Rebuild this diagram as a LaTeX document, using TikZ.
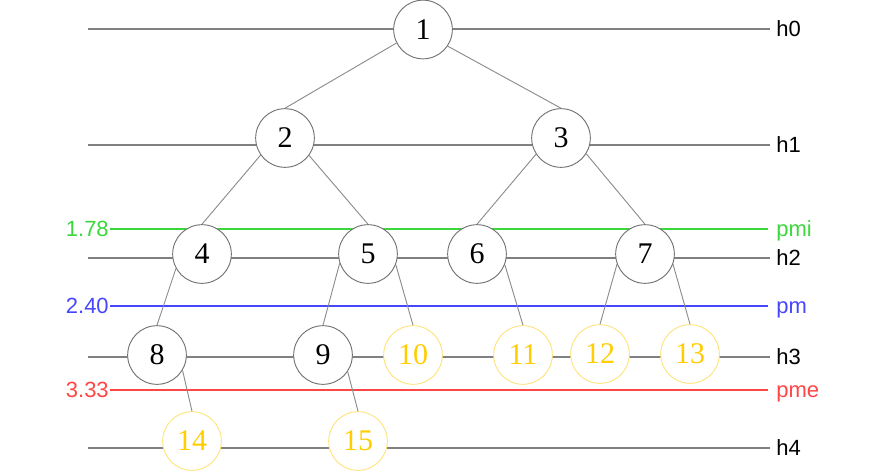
\documentclass[tikz,border=0pt]{standalone}
\usepackage{fontspec}
\usepackage{tikz}
\usetikzlibrary{positioning, calc}
\setmainfont{Liberation Serif}
\newfontfamily\lblfont{Liberation Sans}

\definecolor{lgray}{RGB}{128,128,128}
\definecolor{egray}{RGB}{140,140,140}
\definecolor{vgray}{RGB}{115,115,115}
\definecolor{leafring}{RGB}{255,228,125}
\definecolor{leafnum}{RGB}{255,205,0}
\definecolor{pgreen}{RGB}{60,215,60}
\definecolor{pblue}{RGB}{70,70,255}
\definecolor{pred}{RGB}{255,70,70}

\tikzset{
    vtx/.style={circle, draw=vgray, fill=white, line width=0.7pt,
        minimum size=44pt, inner sep=0pt,
        font=\fontsize{22.5}{25}\selectfont},
    leaf/.style={vtx, draw=leafring, text=leafnum},
    hline/.style={draw=lgray, line width=1.1pt},
    eline/.style={draw=egray, line width=0.7pt},
    pline/.style={line width=0.9pt},
    lbl/.style={inner sep=0pt, font=\lblfont\fontsize{16.5}{19}\selectfont}
}

\begin{document}
\begin{tikzpicture}[x=0.75pt, y=-0.75pt]
    \useasboundingbox (0, 0) rectangle (880, 475);

    % height lines
    \foreach \y/\t in {29/h0, 145/h1, 258/h2, 357/h3, 448/h4} {
        \coordinate (a\t) at (88, \y);
        \coordinate (b\t) at (770, \y);
        \draw[hline] (a\t) -- (b\t);
        \node[lbl, anchor=base west] (\t) at ($(b\t) + (6, 7.5)$) {\t};
    }

    % threshold lines
    \coordinate (apmi) at (110, 229);
    \coordinate (bpmi) at (768, 229);
    \coordinate (apm) at (110, 306);
    \coordinate (bpm) at (768, 306);
    \coordinate (apme) at (110, 390);
    \coordinate (bpme) at (768, 390);

    \draw[pline, draw=pgreen] (apmi) -- (bpmi);
    \draw[pline, draw=pblue] (apm) -- (bpm);
    \draw[pline, draw=pred] (apme) -- (bpme);

    \node[lbl, text=pgreen, anchor=base east] (vmi) at ($(apmi) + (-1, 7.5)$) {1.78};
    \node[lbl, text=pblue, anchor=base east] (vm) at ($(apm) + (-1, 7.5)$) {2.40};
    \node[lbl, text=pred, anchor=base east] (vme) at ($(apme) + (-1, 7.5)$) {3.33};
    \node[lbl, text=pgreen, anchor=base west] (pmi) at ($(bpmi) + (8, 7.5)$) {pmi};
    \node[lbl, text=pblue, anchor=base west] (pm) at ($(bpm) + (8, 7.5)$) {pm};
    \node[lbl, text=pred, anchor=base west] (pme) at ($(bpme) + (8, 7.5)$) {pme};

    % tree
    \node[vtx] (n1) at (423, 29.5) {1};
    \node[vtx] (n2) at (285, 138) {2};
    \node[vtx] (n3) at (561, 138) {3};
    \node[vtx] (n4) at (202, 254) {4};
    \node[vtx] (n5) at (368, 254) {5};
    \node[vtx] (n6) at (477, 254) {6};
    \node[vtx] (n7) at (645, 254) {7};
    \node[vtx] (n8) at (157, 355) {8};
    \node[vtx] (n9) at (323, 355) {9};
    \node[leaf] (n10) at (413, 355) {10};
    \node[leaf] (n11) at (523, 355) {11};
    \node[leaf] (n12) at (600, 354) {12};
    \node[leaf] (n13) at (690, 354) {13};
    \node[leaf] (n14) at (192, 441) {14};
    \node[leaf] (n15) at (358, 441) {15};

    \draw[eline] (n1.207) -- (n2.north);
    \draw[eline] (n1.-34) -- (n3.north);
    \draw[eline] (n2.215) -- (n4.north);
    \draw[eline] (n2.-36) -- (n5.north);
    \draw[eline] (n3.213) -- (n6.north);
    \draw[eline] (n3.-32) -- (n7.north);
    \draw[eline] (n4.209) -- (n8.north);
    \draw[eline] (n5.198) -- (n9.north);
    \draw[eline] (n5.-21) -- (n10.north);
    \draw[eline] (n6.-21) -- (n11.north);
    \draw[eline] (n7.200) -- (n12.north);
    \draw[eline] (n7.-20) -- (n13.north);
    \draw[eline] (n8.-31) -- (n14.north);
    \draw[eline] (n9.-34) -- (n15.north);
\end{tikzpicture}
\end{document}
